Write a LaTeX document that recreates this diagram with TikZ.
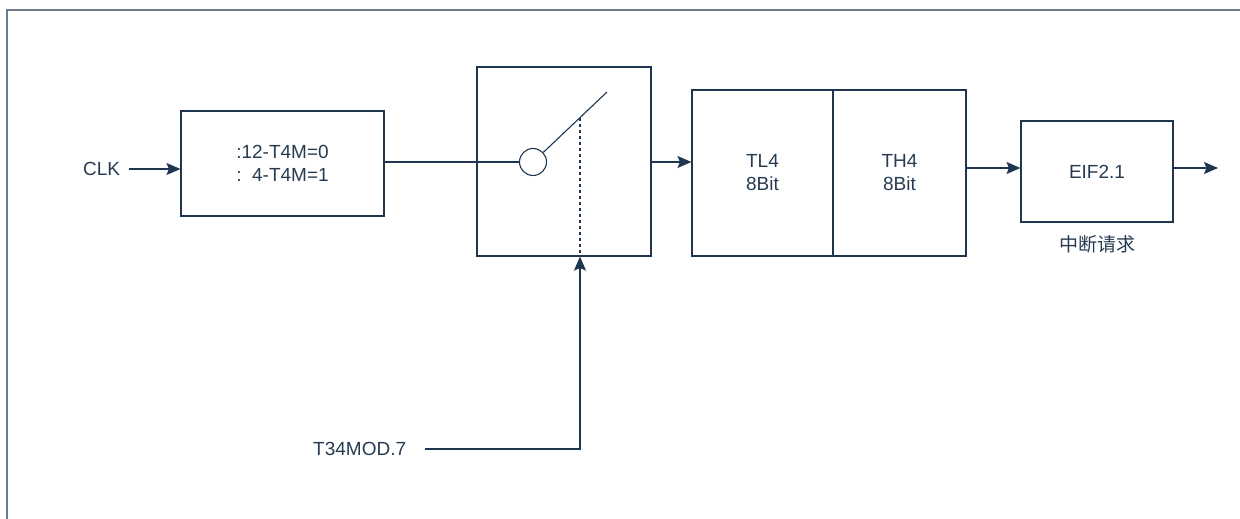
\documentclass[tikz,border=0pt]{standalone}
\usepackage{fontspec}
\setmainfont{Liberation Sans}
\newfontfamily\cjk{Noto Sans CJK SC}
\usetikzlibrary{arrows.meta,calc}
\definecolor{ink}{HTML}{1F3650}
\definecolor{txt}{HTML}{263B52}
\definecolor{framecol}{HTML}{6A7D8E}
\begin{document}
\begin{tikzpicture}[x=1pt,y=-1pt,line width=1.1pt,
  every node/.style={font=\fontsize{19}{23}\selectfont, text=txt},
  blk/.style={draw=ink, inner sep=0pt, align=center},
  arr/.style={draw=ink, -{Stealth[length=14pt,width=12pt,inset=2.5pt]}},
  ln/.style={draw=ink}]
\useasboundingbox (0,0) rectangle (1240,519);
\draw[framecol, line width=1.6pt] (7,530) -- (7,10) -- (1250,10);

\node[blk, minimum width=203pt, minimum height=105pt] (b1) at (282.5,163.5) {:12-T4M=0\\:\ \ 4-T4M=1};
\node[blk, minimum width=174pt, minimum height=189pt] (b2) at (564,161.5) {};
\node[blk, minimum width=141pt, minimum height=166pt] (tl) at (762.5,173) {TL4\\8Bit};
\node[blk, minimum width=133pt, minimum height=166pt] (th) at (899.5,173) {TH4\\8Bit};
\node[blk, minimum width=152pt, minimum height=101pt] (b4) at (1097,171.5) {EIF2.1};
\node (irq) at (1097,244) {\cjk 中断请求};

\node[anchor=east] (clk) at (124,169) {CLK};
\node[anchor=east] (mod) at (410,449) {T34MOD.7};

\node[draw=ink, circle, minimum size=27pt, inner sep=0pt] (sw) at (533,162) {};
\coordinate (tip) at (607,92);
\coordinate (dtop) at ($(sw.center)!0.6351!(tip)$);
\coordinate (modstart) at (425,449);
\coordinate (out) at (1218,168);

\draw[arr] ([xshift=5pt]clk.east) -- (clk.east -| b1.west);
\draw[ln] (b1.east |- sw) -- (sw.west);
\draw[ln] (sw.43) -- (tip);
\draw[ln, dash pattern=on 3.5pt off 2.5pt] (dtop) -- (b2.south -| dtop);
\draw[arr] (modstart) -| (b2.south -| dtop);
\draw[arr] (b2.east |- sw) -- (sw -| tl.west);
\draw[arr] (th.east |- out) -- (b4.west |- out);
\draw[arr] (b4.east |- out) -- (out);
\end{tikzpicture}
\end{document}
